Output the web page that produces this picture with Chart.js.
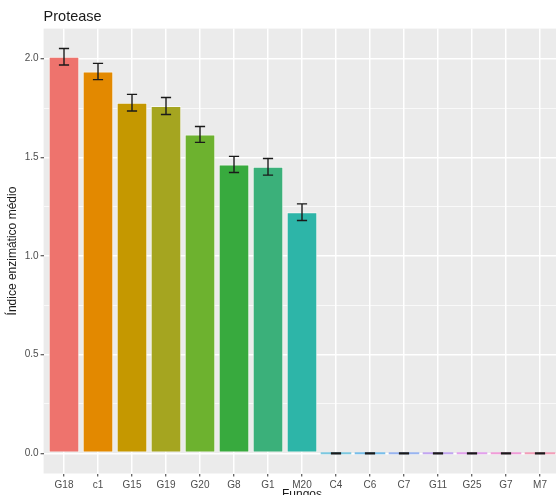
<!DOCTYPE html>
<html>
<head>
<meta charset="utf-8">
<script src="https://cdn.jsdelivr.net/npm/chart.js@4/dist/chart.umd.min.js"></script>
<style>
  html, body { margin: 0; padding: 0; background: #ffffff; overflow: hidden; }
  #wrap { width: 556px; height: 495px; overflow: hidden; position: relative; }
  canvas { display: block; }
</style>
</head>
<body>
<div id="wrap"><canvas id="chart" width="566" height="505"></canvas></div>
<script>
// Fungal isolates and their mean protease enzymatic index
const categories = ['G18', 'c1', 'G15', 'G19', 'G20', 'G8', 'G1', 'M20', 'C4', 'C6', 'C7', 'G11', 'G25', 'G7', 'M7'];
const meanIndex  = [2.01, 1.935, 1.777, 1.760, 1.616, 1.464, 1.452, 1.222, 0, 0, 0, 0, 0, 0, 0];
const errorSize  = [0.042, 0.041, 0.042, 0.043, 0.040, 0.041, 0.042, 0.042, 0, 0, 0, 0, 0, 0, 0];
const yTickLabels = ['0.0', '0.5', '1.0', '1.5', '2.0'];

// Hue palette, one colour per isolate
const palette = ['#EE736D', '#E38900', '#C59800', '#A5A520', '#6DB22F', '#38AA3E', '#3BB07A', '#2DB5A8',
                 '#7CC8E0', '#78BEEA', '#98B4F0', '#C2A6F0', '#E2A0EC', '#F09CD8', '#F29EB8'];

const FONT = '"Liberation Sans", Arial, Helvetica, sans-serif';

// Grey panel background behind the plotting area
const panelBackground = {
  id: 'panelBackground',
  beforeDraw(chart) {
    const { ctx, chartArea: a } = chart;
    ctx.save();
    ctx.fillStyle = '#EBEBEB';
    ctx.fillRect(a.left, a.top, a.right - a.left, a.bottom - a.top);
    ctx.restore();
  }
};

// Error bars (mean ± error) drawn through the chart's scales
const errorBars = {
  id: 'errorBars',
  afterDatasetsDraw(chart) {
    const { ctx, scales: { x, y } } = chart;
    ctx.save();
    ctx.strokeStyle = '#1a1a1a';
    ctx.lineCap = 'butt';
    categories.forEach((c, i) => {
      const cx = x.getPixelForValue(i + 1);
      const half = x.getPixelForValue(i + 1.15) - cx;
      const top = y.getPixelForValue(meanIndex[i] + errorSize[i]);
      const bot = y.getPixelForValue(meanIndex[i] - errorSize[i]);
      ctx.lineWidth = errorSize[i] === 0 ? 2.2 : 1.4;
      ctx.beginPath();
      ctx.moveTo(cx, top); ctx.lineTo(cx, bot);
      ctx.moveTo(cx - half, top); ctx.lineTo(cx + half, top);
      ctx.moveTo(cx - half, bot); ctx.lineTo(cx + half, bot);
      ctx.stroke();
    });
    ctx.restore();
  }
};

const isMajor = v => Math.abs(v * 2 - Math.round(v * 2)) < 1e-6;

new Chart(document.getElementById('chart'), {
  type: 'bar',
  data: {
    datasets: [{
      data: categories.map((c, i) => ({ x: i + 1, y: meanIndex[i] })),
      backgroundColor: palette,
      borderColor: 'rgba(250,250,246,0.9)',
      borderWidth: ctx => meanIndex[ctx.dataIndex] > 0 ? 1 : 0,
      borderSkipped: false,
      minBarLength: 2,
      categoryPercentage: 1,
      barPercentage: 0.9
    }]
  },
  options: {
    responsive: false,
    devicePixelRatio: 1,
    animation: false,
    layout: { padding: { left: 0, right: 5.6, top: 0, bottom: 0 } },
    plugins: {
      legend: { display: false },
      tooltip: { enabled: false },
      title: {
        display: true,
        text: 'Protease',
        align: 'start',
        fullSize: false,
        color: '#1a1a1a',
        font: { family: FONT, size: 14.5, weight: 'normal' },
        padding: { top: 8.3, bottom: 2.9 }
      }
    },
    scales: {
      x: {
        type: 'linear',
        min: 0.4,
        max: 15.6,
        offset: false,
        afterFit(scale) { scale.height = 31.5; },
        border: { display: false },
        grid: { offset: false, color: '#FFFFFF', lineWidth: 1.5, tickLength: 3, tickColor: '#333333', tickWidth: 1 },
        ticks: {
          stepSize: 1,
          includeBounds: false,
          autoSkip: false,
          maxTicksLimit: 30,
          maxRotation: 0,
          padding: 2.5,
          color: '#4D4D4D',
          font: { family: FONT, size: 10 },
          callback: v => categories[Math.round(v) - 1] ?? ''
        },
        title: {
          display: true,
          text: 'Fungos',
          color: '#1a1a1a',
          font: { family: FONT, size: 12 },
          padding: { top: 0, bottom: 3.5 }
        }
      },
      y: {
        min: -0.1025,
        max: 2.1525,
        afterFit(scale) { scale.width = 43.6; },
        border: { display: false },
        grid: {
          color: '#FFFFFF',
          lineWidth: ctx => isMajor(ctx.tick.value) ? 1.5 : 0.7,
          tickLength: 3,
          tickColor: ctx => isMajor(ctx.tick.value) ? '#333333' : 'rgba(0,0,0,0)',
          tickWidth: 1
        },
        ticks: {
          stepSize: 0.25,
          includeBounds: false,
          maxTicksLimit: 30,
          padding: 2,
          color: '#4D4D4D',
          font: { family: FONT, size: 10 },
          callback: v => isMajor(v) ? yTickLabels[Math.round(v * 2)] : ''
        },
        title: {
          display: true,
          text: 'Índice enzimático médio',
          color: '#1a1a1a',
          font: { family: FONT, size: 12 },
          padding: { top: 5.8, bottom: 0 }
        }
      }
    }
  },
  plugins: [panelBackground, errorBars]
});
</script>
</body>
</html>
